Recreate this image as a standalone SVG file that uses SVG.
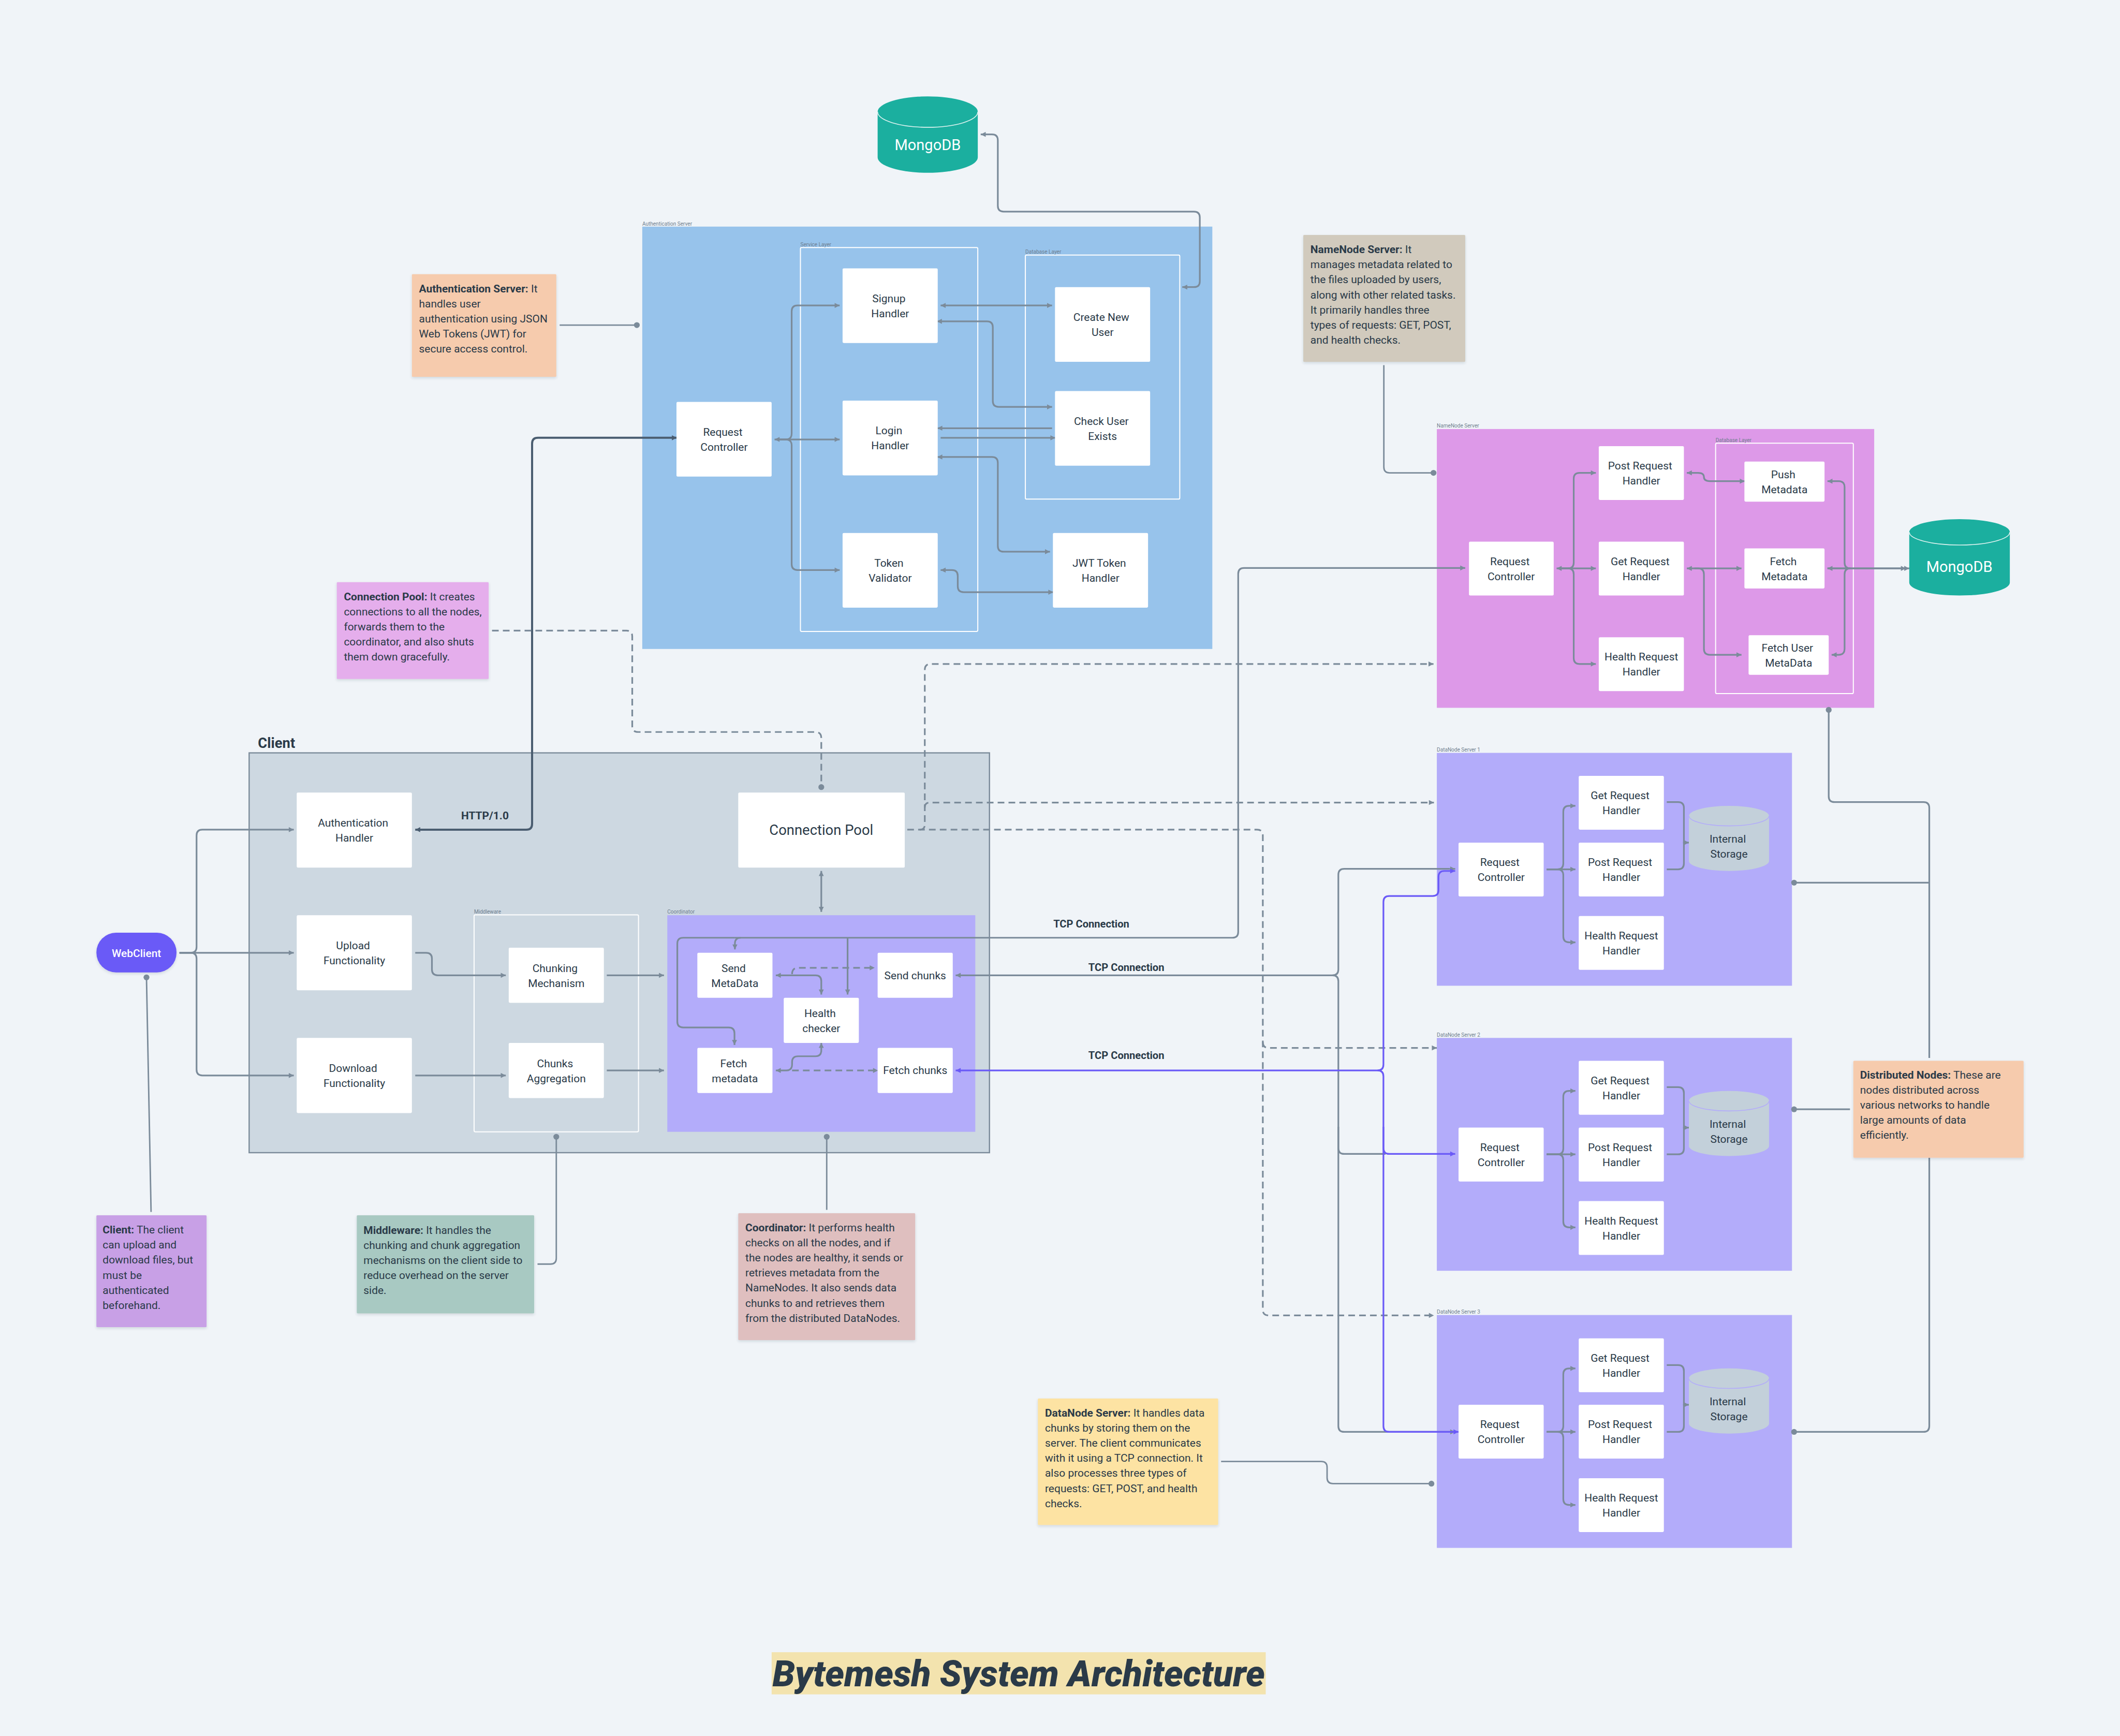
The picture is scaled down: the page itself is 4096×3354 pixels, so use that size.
<svg xmlns="http://www.w3.org/2000/svg" width="4096" height="3354" viewBox="0 0 4096 3354">
<style>
text{font-family:Roboto,"Liberation Sans",sans-serif;fill:#2a3a48}
.n{font-size:26px;text-anchor:middle}
.s{font-size:26px}
.s tspan.b,.b{font-weight:700}
.lab{font-size:12.500px;fill:#6f7f8f}
.box{fill:#fff}
.layer{fill:none;stroke:#fff;stroke-width:2.5}
.note{filter:url(#sh)}
.c{fill:none;stroke:#7b8b9a;stroke-width:4}
.p{stroke:#6a5af7}
.d{stroke:#4a5d70;stroke-width:5}
.dash{stroke-dasharray:16 10}
.thin{stroke-width:3.5}
.aa{marker-start:url(#a);marker-end:url(#a)}
.ae{marker-end:url(#a)}
.de{marker-end:url(#dot)}
</style>
<defs>
<marker id="a" markerUnits="userSpaceOnUse" markerWidth="14" markerHeight="14" refX="13" refY="7" orient="auto-start-reverse"><path d="M1 1L13 7L1 13Z" fill="#7b8b9a"/></marker>
<marker id="ap" markerUnits="userSpaceOnUse" markerWidth="14" markerHeight="14" refX="13" refY="7" orient="auto-start-reverse"><path d="M1 1L13 7L1 13Z" fill="#6a5af7"/></marker>
<marker id="ad" markerUnits="userSpaceOnUse" markerWidth="14" markerHeight="14" refX="13" refY="7" orient="auto-start-reverse"><path d="M1 1L13 7L1 13Z" fill="#4a5d70"/></marker>
<marker id="dot" markerUnits="userSpaceOnUse" markerWidth="16" markerHeight="16" refX="8" refY="8"><circle cx="8" cy="8" r="7" fill="#7b8b9a"/></marker>
<filter id="sh" x="-5%" y="-5%" width="110%" height="112%"><feDropShadow dx="0" dy="3" stdDeviation="3" flood-color="#2a3a48" flood-opacity=".16"/></filter>
</defs>
<rect width="4096" height="3354" fill="#f0f4f8"/>
<g transform="scale(0.8063)">

<g id="authentication-server">
<rect x="1539" y="543" width="1366" height="1012" fill="#97c3eb"/>
<text class="lab" x="1539" y="541">Authentication Server</text>
</g>
<g id="auth-service-layer"><rect class="layer" x="1918" y="593" width="425" height="920" rx="3"/><text class="lab" x="1918" y="590">Service Layer</text></g>
<g id="auth-database-layer"><rect class="layer" x="2457" y="611" width="370" height="585" rx="3"/><text class="lab" x="2457" y="608">Database Layer</text></g>

<g id="namenode-server">
<rect x="3443" y="1028" width="1048" height="668" fill="#dd99e8"/>
<text class="lab" x="3443" y="1025">NameNode Server</text>
</g>
<g id="namenode-database-layer"><rect class="layer" x="4111" y="1062" width="330" height="600" rx="3"/><text class="lab" x="4111" y="1059">Database Layer</text></g>

<g id="client">
<rect x="597" y="1804" width="1774" height="958" fill="#cdd8e1" stroke="#7b8b9a" stroke-width="3"/>
<text class="b" x="618" y="1792" font-size="34">Client</text>
</g>
<g id="middleware"><rect class="layer" x="1136" y="2192" width="394" height="520" rx="3"/><text class="lab" x="1136" y="2189">Middleware</text></g>
<g id="coordinator"><rect x="1599" y="2193" width="738" height="519" fill="#b3acfa"/><text class="lab" x="1599" y="2189">Coordinator</text></g>

<g id="datanode-server-1"><rect x="3443" y="1804" width="851" height="558" fill="#b3acfa"/><text class="lab" x="3443" y="1801">DataNode Server 1</text></g>
<g id="datanode-server-2"><rect x="3443" y="2487" width="851" height="558" fill="#b3acfa"/><text class="lab" x="3443" y="2484">DataNode Server 2</text></g>
<g id="datanode-server-3"><rect x="3443" y="3151" width="851" height="558" fill="#b3acfa"/><text class="lab" x="3443" y="3148">DataNode Server 3</text></g>

<g id="connectors">
<path class="c aa" d="M2350 322H2377Q2391 322 2391 336V493Q2391 507 2405 507H2861Q2875 507 2875 521V674Q2875 688 2861 688H2833"/>
<path class="c aa" d="M2254 732H2521"/>
<path class="c aa" d="M2245 770H2365Q2379 770 2379 784V961Q2379 975 2393 975H2521"/>
<path class="c ae" d="M2521 1026H2246"/>
<path class="c ae" d="M2254 1049H2529"/>
<path class="c aa" d="M2246 1095H2377Q2391 1095 2391 1109V1308Q2391 1322 2405 1322H2516"/>
<path class="c aa" d="M2254 1366H2281Q2295 1366 2295 1380V1405Q2295 1419 2309 1419H2524"/>
<path class="c aa" d="M1856 1053H2012"/>
<path class="c ae" d="M1860 1053H1883Q1897 1053 1897 1039V746Q1897 732 1911 732H2012"/>
<path class="c ae" d="M1860 1053H1883Q1897 1053 1897 1067V1352Q1897 1366 1911 1366H2012"/>
<path class="c ae" d="M1761 2247H2953Q2967 2247 2967 2233V1375Q2967 1361 2981 1361H3511"/>
<path class="c aa" d="M3730 1362H3824"/>
<path class="c ae" d="M3734 1362H3757Q3771 1362 3771 1348V1147Q3771 1133 3785 1133H3824"/>
<path class="c ae" d="M3734 1362H3757Q3771 1362 3771 1376V1577Q3771 1591 3785 1591H3824"/>
<path class="c aa" d="M4042 1133H4069Q4083 1133 4083 1143Q4083 1153 4097 1153H4181"/>
<path class="c aa" d="M4042 1362H4173"/>
<path class="c ae" d="M4060 1362H4069Q4083 1362 4083 1376V1555Q4083 1569 4097 1569H4173"/>
<path class="c aa" d="M4379 1362H4575"/>
<path class="c ae" d="M4379 1362H4567"/>
<path class="c" style="marker-start:url(#a)" d="M4379 1153H4406Q4420 1153 4420 1167V1348Q4420 1362 4434 1362"/>
<path class="c" style="marker-start:url(#a)" d="M4389 1569H4406Q4420 1569 4420 1555V1376Q4420 1362 4434 1362"/>
<path class="c ae" d="M430 2283H704"/>
<path class="c ae" d="M430 2283H457Q471 2283 471 2269V2002Q471 1988 485 1988H704"/>
<path class="c ae" d="M430 2283H457Q471 2283 471 2297V2563Q471 2577 485 2577H704"/>
<path class="c ae" d="M995 2283H1021Q1035 2283 1035 2297V2323Q1035 2337 1049 2337H1212"/>
<path class="c ae" d="M995 2577H1212"/>
<path class="c ae" d="M1454 2337H1591"/>
<path class="c ae" d="M1454 2565H1591"/>
<path class="c aa" d="M1968 2087V2185"/>
<path class="c ae" d="M1775 2247Q1761 2247 1761 2261V2275"/>
<path class="c ae" d="M1761 2247H1637Q1623 2247 1623 2261V2448Q1623 2462 1637 2462H1746Q1760 2462 1760 2476V2504"/>
<path class="c ae" d="M2031 2247V2383"/>
<path class="c aa" d="M1859 2337H1954Q1968 2337 1968 2351V2383"/>
<path class="c dash ae" d="M1898 2334Q1898 2319 1912 2319H2096"/>
<path class="c aa" d="M1859 2565H1884Q1898 2565 1898 2551V2545Q1898 2531 1912 2531H1954Q1968 2531 1968 2517V2499"/>
<path class="c dash ae" d="M1898 2565H2104"/>
<path class="c d" style="marker-start:url(#ad);marker-end:url(#ad)" d="M1622 1049H1289Q1275 1049 1275 1063V1974Q1275 1988 1261 1988H995"/>
<path class="c dash de" d="M1179 1511H1501Q1515 1511 1515 1525V1740Q1515 1754 1529 1754H1954Q1968 1754 1968 1768V1886"/>
<path class="c dash ae" d="M2174 1988H3012Q3026 1988 3026 2002V3138Q3026 3152 3040 3152H3436"/>
<path class="c dash ae" d="M3026 2497Q3026 2511 3040 2511H3443"/>
<path class="c dash ae" d="M2204 1988Q2216 1988 2216 1976V1605Q2216 1591 2230 1591H3435"/>
<path class="c dash ae" d="M2216 1935Q2216 1923 2228 1923H3436"/>
<path class="c" style="marker-start:url(#a)" d="M2290 2337H3193Q3207 2337 3207 2323V2096Q3207 2082 3221 2082H3473"/>
<path class="c ae" d="M3473 2082H3487"/>
<path class="c" d="M3193 2337Q3207 2337 3207 2351V2751Q3207 2765 3221 2765H3320"/>
<path class="c ae" d="M3207 2700V3417Q3207 3431 3221 3431H3487"/>
<path class="c p" style="marker-start:url(#ap);marker-end:url(#ap)" d="M2290 2565H3301Q3315 2565 3315 2551V2161Q3315 2147 3329 2147H3433Q3447 2147 3447 2133V2101Q3447 2087 3461 2087H3487"/>
<path class="c p" style="marker-end:url(#ap)" d="M3301 2565Q3315 2565 3315 2579V2751Q3315 2765 3329 2765H3487"/>
<path class="c p" style="marker-end:url(#ap)" d="M3315 2700V3417Q3315 3431 3329 3431H3495"/>
<path class="c ae" d="M3706 2083H3775"/>
<path class="c ae" d="M3706 2083H3732Q3746 2083 3746 2069V1945Q3746 1931 3760 1931H3775"/>
<path class="c ae" d="M3706 2083H3732Q3746 2083 3746 2097V2244Q3746 2258 3760 2258H3775"/>
<path class="c" d="M3994 1922H4021Q4035 1922 4035 1936V2069Q4035 2083 4021 2083H3994"/>
<path class="c ae" d="M4033 2019H4047"/>
<path class="c ae" d="M3706 2766H3775"/>
<path class="c ae" d="M3706 2766H3732Q3746 2766 3746 2752V2628Q3746 2614 3760 2614H3775"/>
<path class="c ae" d="M3706 2766H3732Q3746 2766 3746 2780V2927Q3746 2941 3760 2941H3775"/>
<path class="c" d="M3994 2605H4021Q4035 2605 4035 2619V2752Q4035 2766 4021 2766H3994"/>
<path class="c ae" d="M4033 2702H4047"/>
<path class="c ae" d="M3706 3431H3775"/>
<path class="c ae" d="M3706 3431H3732Q3746 3431 3746 3417V3293Q3746 3279 3760 3279H3775"/>
<path class="c ae" d="M3706 3431H3732Q3746 3431 3746 3445V3592Q3746 3606 3760 3606H3775"/>
<path class="c" d="M3994 3271H4021Q4035 3271 4035 3285V3417Q4035 3431 4021 3431H3994"/>
<path class="c ae" d="M4033 3366H4047"/>
<path class="c" style="marker-start:url(#dot)" d="M4382 1701V1908Q4382 1922 4396 1922H4609Q4623 1922 4623 1936V2535"/>
<path class="c de" d="M4623 2774V3417Q4623 3431 4609 3431H4299"/>
<path class="c" style="marker-start:url(#dot)" d="M4299 2115H4623"/>
<path class="c" style="marker-start:url(#dot)" d="M4299 2658H4433"/>
<path class="c thin de" d="M1341 779H1526"/>
<path class="c thin de" d="M3316 875V1119Q3316 1133 3330 1133H3435"/>
<path class="c thin" style="marker-start:url(#dot)" d="M351 2342L362 2904"/>
<path class="c thin" style="marker-start:url(#dot)" d="M1333 2724V3015Q1333 3029 1319 3029H1288"/>
<path class="c thin" style="marker-start:url(#dot)" d="M1981 2724V2899"/>
<path class="c thin de" d="M2926 3502H3166Q3180 3502 3180 3516V3541Q3180 3555 3194 3555H3430"/>
</g>

<g id="mongodb-auth">
<path d="M2103 268V377A120 37 0 0 0 2343 377V268A120 37 0 0 0 2103 268Z" fill="#1baf9f"/>
<path d="M2103 268A120 37 0 0 0 2343 268" fill="none" stroke="#dff3f0" stroke-width="2"/>
<text x="2223" y="360" font-size="36" text-anchor="middle" style="fill:#fff">MongoDB</text>
</g>
<g id="mongodb-namenode">
<path d="M4575 1275V1396A120.500 31 0 0 0 4816 1396V1275A120.500 31 0 0 0 4575 1275Z" fill="#1baf9f"/>
<path d="M4575 1275A120.500 31 0 0 0 4816 1275" fill="none" stroke="#dff3f0" stroke-width="2"/>
<text x="4695" y="1371" font-size="36" text-anchor="middle" style="fill:#fff">MongoDB</text>
</g>

<g id="auth-request-controller"><rect class="box" x="1621" y="963" width="228" height="179" rx="3"/><text class="n"><tspan x="1732" y="1044">Request</tspan><tspan x="1735" y="1080">Controller</tspan></text></g>
<g id="signup-handler"><rect class="box" x="2019" y="643" width="228" height="179" rx="3"/><text class="n"><tspan x="2130" y="724">Signup</tspan><tspan x="2133" y="760">Handler</tspan></text></g>
<g id="login-handler"><rect class="box" x="2019" y="960" width="228" height="179" rx="3"/><text class="n"><tspan x="2130" y="1041">Login</tspan><tspan x="2133" y="1077">Handler</tspan></text></g>
<g id="token-validator"><rect class="box" x="2019" y="1277" width="228" height="179" rx="3"/><text class="n"><tspan x="2130" y="1358">Token</tspan><tspan x="2133" y="1394">Validator</tspan></text></g>
<g id="create-new-user"><rect class="box" x="2528" y="688" width="228" height="179" rx="3"/><text class="n"><tspan x="2639" y="769">Create New</tspan><tspan x="2642" y="805">User</tspan></text></g>
<g id="check-user-exists"><rect class="box" x="2528" y="937" width="228" height="179" rx="3"/><text class="n"><tspan x="2639" y="1018">Check User</tspan><tspan x="2642" y="1054">Exists</tspan></text></g>
<g id="jwt-token-handler"><rect class="box" x="2523" y="1277" width="228" height="179" rx="3"/><text class="n"><tspan x="2634" y="1358">JWT Token</tspan><tspan x="2637" y="1394">Handler</tspan></text></g>

<g id="nn-request-controller"><rect class="box" x="3520" y="1298" width="203" height="129" rx="3"/><text class="n"><tspan x="3618" y="1354">Request</tspan><tspan x="3621" y="1390">Controller</tspan></text></g>
<g id="nn-post-request"><rect class="box" x="3831" y="1069" width="204" height="129" rx="3"/><text class="n"><tspan x="3930" y="1125">Post Request</tspan><tspan x="3933" y="1161">Handler</tspan></text></g>
<g id="nn-get-request"><rect class="box" x="3831" y="1298" width="204" height="129" rx="3"/><text class="n"><tspan x="3930" y="1354">Get Request</tspan><tspan x="3933" y="1390">Handler</tspan></text></g>
<g id="nn-health-request"><rect class="box" x="3831" y="1527" width="204" height="129" rx="3"/><text class="n"><tspan x="3933" y="1583">Health Request</tspan><tspan x="3933" y="1619">Handler</tspan></text></g>
<g id="push-metadata"><rect class="box" x="4180" y="1106" width="192" height="96" rx="3"/><text class="n"><tspan x="4273" y="1146">Push</tspan><tspan x="4276" y="1182">Metadata</tspan></text></g>
<g id="fetch-metadata"><rect class="box" x="4180" y="1314" width="192" height="96" rx="3"/><text class="n"><tspan x="4273" y="1354">Fetch</tspan><tspan x="4276" y="1390">Metadata</tspan></text></g>
<g id="fetch-user-metadata"><rect class="box" x="4190" y="1522" width="192" height="95" rx="3"/><text class="n"><tspan x="4283" y="1561">Fetch User</tspan><tspan x="4286" y="1597">MetaData</tspan></text></g>

<g id="webclient"><rect class="note" x="231" y="2235" width="192" height="95" rx="47" fill="#6a5af7"/><text x="327" y="2293" font-size="26" font-weight="500" text-anchor="middle" style="fill:#fff">WebClient</text></g>
<g id="authentication-handler"><rect class="box" x="711" y="1899" width="276" height="180" rx="3"/><text class="n"><tspan x="846" y="1981">Authentication</tspan><tspan x="849" y="2017">Handler</tspan></text></g>
<g id="upload-functionality"><rect class="box" x="711" y="2193" width="276" height="180" rx="3"/><text class="n"><tspan x="846" y="2275">Upload</tspan><tspan x="849" y="2311">Functionality</tspan></text></g>
<g id="download-functionality"><rect class="box" x="711" y="2487" width="276" height="180" rx="3"/><text class="n"><tspan x="846" y="2569">Download</tspan><tspan x="849" y="2605">Functionality</tspan></text></g>
<g id="connection-pool"><rect class="box" x="1769" y="1899" width="399" height="180" rx="3"/><text x="1968" y="2001" font-size="34" text-anchor="middle">Connection Pool</text></g>
<g id="chunking-mechanism"><rect class="box" x="1219" y="2271" width="228" height="132" rx="3"/><text class="n"><tspan x="1330" y="2329">Chunking</tspan><tspan x="1333" y="2365">Mechanism</tspan></text></g>
<g id="chunks-aggregation"><rect class="box" x="1219" y="2499" width="228" height="132" rx="3"/><text class="n"><tspan x="1330" y="2557">Chunks</tspan><tspan x="1333" y="2593">Aggregation</tspan></text></g>
<g id="send-metadata"><rect class="box" x="1671" y="2283" width="180" height="108" rx="3"/><text class="n"><tspan x="1758" y="2329">Send</tspan><tspan x="1761" y="2365">MetaData</tspan></text></g>
<g id="send-chunks"><rect class="box" x="2103" y="2283" width="180" height="108" rx="3"/><text class="n" x="2193" y="2346">Send chunks</text></g>
<g id="health-checker"><rect class="box" x="1878" y="2391" width="180" height="108" rx="3"/><text class="n"><tspan x="1965" y="2437">Health</tspan><tspan x="1968" y="2473">checker</tspan></text></g>
<g id="fetch-metadata-coord"><rect class="box" x="1671" y="2511" width="180" height="108" rx="3"/><text class="n"><tspan x="1758" y="2557">Fetch</tspan><tspan x="1761" y="2593">metadata</tspan></text></g>
<g id="fetch-chunks"><rect class="box" x="2103" y="2511" width="180" height="108" rx="3"/><text class="n" x="2193" y="2574">Fetch chunks</text></g>

<g id="dn1-request-controller"><rect class="box" x="3495" y="2019" width="204" height="129" rx="3"/><text class="n"><tspan x="3594" y="2075">Request</tspan><tspan x="3597" y="2111">Controller</tspan></text></g>
<g id="dn1-get"><rect class="box" x="3783" y="1859" width="204" height="129" rx="3"/><text class="n"><tspan x="3882" y="1915">Get Request</tspan><tspan x="3885" y="1951">Handler</tspan></text></g>
<g id="dn1-post"><rect class="box" x="3783" y="2019" width="204" height="129" rx="3"/><text class="n"><tspan x="3882" y="2075">Post Request</tspan><tspan x="3885" y="2111">Handler</tspan></text></g>
<g id="dn1-health"><rect class="box" x="3783" y="2195" width="204" height="129" rx="3"/><text class="n"><tspan x="3885" y="2251">Health Request</tspan><tspan x="3885" y="2287">Handler</tspan></text></g>
<g id="dn1-storage"><path d="M4047 1955V2063A96 24 0 0 0 4239 2063V1955A96 24 0 0 0 4047 1955Z" fill="#c3d0da"/><path d="M4047 1955A96 24 0 0 0 4239 1955" fill="none" stroke="#b3acfa" stroke-width="2"/><text class="n"><tspan x="4140" y="2019">Internal</tspan><tspan x="4143" y="2055">Storage</tspan></text></g>

<g id="dn2-request-controller"><rect class="box" x="3495" y="2702" width="204" height="129" rx="3"/><text class="n"><tspan x="3594" y="2758">Request</tspan><tspan x="3597" y="2794">Controller</tspan></text></g>
<g id="dn2-get"><rect class="box" x="3783" y="2542" width="204" height="129" rx="3"/><text class="n"><tspan x="3882" y="2598">Get Request</tspan><tspan x="3885" y="2634">Handler</tspan></text></g>
<g id="dn2-post"><rect class="box" x="3783" y="2702" width="204" height="129" rx="3"/><text class="n"><tspan x="3882" y="2758">Post Request</tspan><tspan x="3885" y="2794">Handler</tspan></text></g>
<g id="dn2-health"><rect class="box" x="3783" y="2878" width="204" height="129" rx="3"/><text class="n"><tspan x="3885" y="2934">Health Request</tspan><tspan x="3885" y="2970">Handler</tspan></text></g>
<g id="dn2-storage"><path d="M4047 2638V2746A96 24 0 0 0 4239 2746V2638A96 24 0 0 0 4047 2638Z" fill="#c3d0da"/><path d="M4047 2638A96 24 0 0 0 4239 2638" fill="none" stroke="#b3acfa" stroke-width="2"/><text class="n"><tspan x="4140" y="2702">Internal</tspan><tspan x="4143" y="2738">Storage</tspan></text></g>

<g id="dn3-request-controller"><rect class="box" x="3495" y="3366" width="204" height="129" rx="3"/><text class="n"><tspan x="3594" y="3422">Request</tspan><tspan x="3597" y="3458">Controller</tspan></text></g>
<g id="dn3-get"><rect class="box" x="3783" y="3207" width="204" height="129" rx="3"/><text class="n"><tspan x="3882" y="3263">Get Request</tspan><tspan x="3885" y="3299">Handler</tspan></text></g>
<g id="dn3-post"><rect class="box" x="3783" y="3366" width="204" height="129" rx="3"/><text class="n"><tspan x="3882" y="3422">Post Request</tspan><tspan x="3885" y="3458">Handler</tspan></text></g>
<g id="dn3-health"><rect class="box" x="3783" y="3542" width="204" height="129" rx="3"/><text class="n"><tspan x="3885" y="3598">Health Request</tspan><tspan x="3885" y="3634">Handler</tspan></text></g>
<g id="dn3-storage"><path d="M4047 3303V3411A96 24 0 0 0 4239 3411V3303A96 24 0 0 0 4047 3303Z" fill="#c3d0da"/><path d="M4047 3303A96 24 0 0 0 4239 3303" fill="none" stroke="#b3acfa" stroke-width="2"/><text class="n"><tspan x="4140" y="3367">Internal</tspan><tspan x="4143" y="3403">Storage</tspan></text></g>

<g id="link-labels">
<text class="b" x="1162" y="1963" font-size="26" text-anchor="middle">HTTP/1.0</text>
<text class="b" x="2615" y="2222" font-size="25" text-anchor="middle">TCP Connection</text>
<text class="b" x="2699" y="2327" font-size="25" text-anchor="middle">TCP Connection</text>
<text class="b" x="2699" y="2538" font-size="25" text-anchor="middle">TCP Connection</text>
</g>

<g id="note-authentication-server"><rect class="note" x="987" y="657" width="346" height="246" rx="2" fill="#f6cbad"/><text class="s"><tspan x="1004" y="701"><tspan class="b">Authentication Server:</tspan> It</tspan><tspan x="1004" y="737">handles user</tspan><tspan x="1004" y="773">authentication using JSON</tspan><tspan x="1004" y="809">Web Tokens (JWT) for</tspan><tspan x="1004" y="845">secure access control.</tspan></text></g>
<g id="note-connection-pool"><rect class="note" x="807" y="1395" width="364" height="232" rx="2" fill="#e5aeec"/><text class="s"><tspan x="824" y="1439"><tspan class="b">Connection Pool:</tspan> It creates</tspan><tspan x="824" y="1475">connections to all the nodes,</tspan><tspan x="824" y="1511">forwards them to the</tspan><tspan x="824" y="1547">coordinator, and also shuts</tspan><tspan x="824" y="1583">them down gracefully.</tspan></text></g>
<g id="note-namenode-server"><rect class="note" x="3123" y="563" width="388" height="304" rx="2" fill="#d1cabd"/><text class="s"><tspan x="3140" y="607"><tspan class="b">NameNode Server:</tspan> It</tspan><tspan x="3140" y="643">manages metadata related to</tspan><tspan x="3140" y="679">the files uploaded by users,</tspan><tspan x="3140" y="715">along with other related tasks.</tspan><tspan x="3140" y="751">It primarily handles three</tspan><tspan x="3140" y="787">types of requests: GET, POST,</tspan><tspan x="3140" y="823">and health checks.</tspan></text></g>
<g id="note-client"><rect class="note" x="231" y="2912" width="264" height="268" rx="2" fill="#c8a0e6"/><text class="s"><tspan x="246" y="2956"><tspan class="b">Client:</tspan> The client</tspan><tspan x="246" y="2992">can upload and</tspan><tspan x="246" y="3028">download files, but</tspan><tspan x="246" y="3064">must be</tspan><tspan x="246" y="3100">authenticated</tspan><tspan x="246" y="3136">beforehand.</tspan></text></g>
<g id="note-middleware"><rect class="note" x="855" y="2912" width="425" height="235" rx="2" fill="#a8c9c2"/><text class="s"><tspan x="871" y="2957"><tspan class="b">Middleware:</tspan> It handles the</tspan><tspan x="871" y="2993">chunking and chunk aggregation</tspan><tspan x="871" y="3029">mechanisms on the client side to</tspan><tspan x="871" y="3065">reduce overhead on the server</tspan><tspan x="871" y="3101">side.</tspan></text></g>
<g id="note-coordinator"><rect class="note" x="1769" y="2907" width="424" height="304" rx="2" fill="#dfbfbf"/><text class="s"><tspan x="1786" y="2951"><tspan class="b">Coordinator:</tspan> It performs health</tspan><tspan x="1786" y="2987">checks on all the nodes, and if</tspan><tspan x="1786" y="3023">the nodes are healthy, it sends or</tspan><tspan x="1786" y="3059">retrieves metadata from the</tspan><tspan x="1786" y="3095">NameNodes. It also sends data</tspan><tspan x="1786" y="3131">chunks to and retrieves them</tspan><tspan x="1786" y="3167">from the distributed DataNodes.</tspan></text></g>
<g id="note-datanode-server"><rect class="note" x="2487" y="3351" width="432" height="303" rx="2" fill="#fde3a3"/><text class="s"><tspan x="2504" y="3395"><tspan class="b">DataNode Server:</tspan> It handles data</tspan><tspan x="2504" y="3431">chunks by storing them on the</tspan><tspan x="2504" y="3467">server. The client communicates</tspan><tspan x="2504" y="3503">with it using a TCP connection. It</tspan><tspan x="2504" y="3539">also processes three types of</tspan><tspan x="2504" y="3575">requests: GET, POST, and health</tspan><tspan x="2504" y="3611">checks.</tspan></text></g>
<g id="note-distributed-nodes"><rect class="note" x="4441" y="2542" width="408" height="232" rx="2" fill="#f6cbad"/><text class="s"><tspan x="4457" y="2585"><tspan class="b">Distributed Nodes:</tspan> These are</tspan><tspan x="4457" y="2621">nodes distributed across</tspan><tspan x="4457" y="2657">various networks to handle</tspan><tspan x="4457" y="2693">large amounts of data</tspan><tspan x="4457" y="2729">efficiently.</tspan></text></g>

<g id="title"><rect x="1849" y="3959" width="1184" height="101" fill="#f3e3ae"/><text x="1851" y="4041" font-size="86" font-weight="900" font-style="italic" textLength="1180" lengthAdjust="spacingAndGlyphs">Bytemesh System Architecture</text></g>
</g>
</svg>
